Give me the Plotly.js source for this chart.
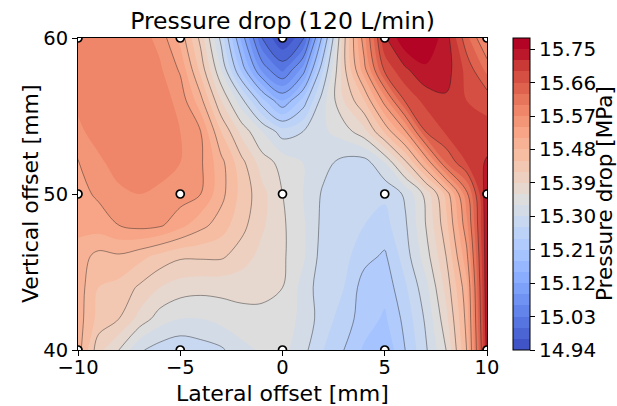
<!DOCTYPE html>
<html>
<head>
<meta charset="utf-8">
<script src="https://cdn.plot.ly/plotly-3.0.1.min.js"></script>
<style>html,body{margin:0;padding:0;background:#fff;}#chart{width:617px;height:406px;}</style>
</head>
<body>
<div id="chart"></div>
<script>
// Lateral offset grid [mm]
const lateral = [-10,-9,-8,-7,-6,-5,-4,-3,-2,-1,0,1,2,3,4,5,6,7,8,9,10];
// Vertical offset grid [mm]
const vertical = [40,42,44,46,48,50,52,54,56,58,60];
// Pressure drop [MPa], one row per vertical offset
const dp40 = [15.495,15.40,15.36,15.305,15.285,15.275,15.285,15.295,15.32,15.335,15.34,15.31,15.27,15.24,15.205,15.185,15.24,15.295,15.36,15.48,15.73];
const dp42 = [15.495,15.44,15.42,15.38,15.345,15.33,15.33,15.34,15.35,15.355,15.35,15.32,15.285,15.255,15.225,15.205,15.25,15.305,15.38,15.49,15.74];
const dp44 = [15.495,15.45,15.44,15.415,15.39,15.375,15.37,15.37,15.37,15.365,15.36,15.32,15.28,15.27,15.225,15.22,15.265,15.32,15.40,15.50,15.745];
const dp46 = [15.495,15.47,15.475,15.46,15.44,15.425,15.425,15.425,15.405,15.38,15.365,15.335,15.285,15.28,15.25,15.235,15.285,15.345,15.42,15.53,15.745];
const dp48 = [15.52,15.525,15.54,15.55,15.545,15.52,15.49,15.465,15.43,15.395,15.365,15.335,15.29,15.285,15.27,15.26,15.295,15.36,15.44,15.56,15.745];
const dp50 = [15.53,15.545,15.565,15.57,15.565,15.555,15.54,15.49,15.44,15.40,15.36,15.33,15.295,15.29,15.28,15.275,15.305,15.37,15.46,15.59,15.745];
const dp52 = [15.537,15.565,15.58,15.585,15.58,15.57,15.545,15.49,15.43,15.375,15.35,15.33,15.31,15.29,15.285,15.33,15.41,15.51,15.63,15.69,15.725];
const dp54 = [15.565,15.58,15.59,15.59,15.585,15.57,15.54,15.45,15.38,15.33,15.285,15.30,15.325,15.345,15.38,15.455,15.535,15.66,15.695,15.69,15.70];
const dp56 = [15.575,15.585,15.595,15.595,15.585,15.56,15.49,15.39,15.31,15.22,15.15,15.22,15.32,15.39,15.45,15.555,15.665,15.70,15.715,15.69,15.68];
const dp58 = [15.58,15.59,15.595,15.595,15.575,15.535,15.44,15.33,15.20,15.08,15.02,15.10,15.27,15.41,15.53,15.67,15.715,15.745,15.735,15.68,15.62];
const dp60 = [15.575,15.585,15.59,15.585,15.56,15.50,15.41,15.29,15.14,15.00,14.94,14.99,15.20,15.41,15.56,15.715,15.775,15.775,15.735,15.64,15.56];
// Measured sample locations
const sampleX = [-10,-5,0,5,10,-10,-5,0,5,10,-10,-5,0,5,10];
const sampleY = [40,40,40,40,40,50,50,50,50,50,60,60,60,60,60];
// Colorbar ticks
const cbTicks = [14.94,15.03,15.12,15.21,15.30,15.39,15.48,15.57,15.66,15.75];
const xTicks = [-10,-5,0,5,10];
const yTicks = [40,50,60];

const zGrid = [dp40,dp42,dp44,dp46,dp48,dp50,dp52,dp54,dp56,dp58,dp60];

const coolwarm = [
 [0,'rgb(59,76,192)'],[0.03125,'rgb(68,90,204)'],[0.0625,'rgb(77,104,215)'],[0.09375,'rgb(87,117,225)'],
 [0.125,'rgb(98,130,234)'],[0.15625,'rgb(108,142,241)'],[0.1875,'rgb(119,154,247)'],[0.21875,'rgb(130,165,251)'],
 [0.25,'rgb(141,176,254)'],[0.28125,'rgb(152,185,255)'],[0.3125,'rgb(163,194,255)'],[0.34375,'rgb(174,201,253)'],
 [0.375,'rgb(184,208,249)'],[0.40625,'rgb(194,213,244)'],[0.4375,'rgb(204,217,238)'],[0.46875,'rgb(213,219,230)'],
 [0.5,'rgb(221,221,221)'],[0.53125,'rgb(229,216,209)'],[0.5625,'rgb(236,211,197)'],[0.59375,'rgb(241,204,185)'],
 [0.625,'rgb(245,196,173)'],[0.65625,'rgb(247,187,160)'],[0.6875,'rgb(247,177,148)'],[0.71875,'rgb(247,166,135)'],
 [0.75,'rgb(244,154,123)'],[0.78125,'rgb(241,141,111)'],[0.8125,'rgb(236,127,99)'],[0.84375,'rgb(229,112,88)'],
 [0.875,'rgb(222,96,77)'],[0.90625,'rgb(213,80,66)'],[0.9375,'rgb(203,62,56)'],[0.96875,'rgb(192,40,47)'],
 [1,'rgb(180,4,38)']
];

const font = 'DejaVu Sans, sans-serif';

const fill = {
  type: 'contour', x: lateral, y: vertical, z: zGrid,
  colorscale: coolwarm, zauto: false, zmin: 14.94, zmax: 15.78,
  autocontour: false,
  contours: {start: 14.94, end: 15.78, size: 0.03, coloring: 'fill', showlines: false},
  line: {width: 0, smoothing: 1},
  colorbar: {
    x: 1.0636, xanchor: 'left', xpad: 0, y: 0.5, yanchor: 'middle', ypad: 0, len: 1, lenmode: 'fraction',
    thickness: 17, outlinewidth: 1, outlinecolor: '#000',
    ticks: 'outside', ticklen: 5, tickcolor: '#000', tickwidth: 1,
    tickvals: cbTicks, ticktext: cbTicks.map(v => v.toFixed(2)),
    tickfont: {family: font, size: 20, color: '#000'}
  },
  hoverinfo: 'skip'
};

const lines = {
  type: 'contour', x: lateral, y: vertical, z: zGrid,
  autocontour: false, showscale: false,
  contours: {start: 15.00, end: 15.72, size: 0.06, coloring: 'none'},
  line: {color: 'rgba(30,30,30,0.55)', width: 0.8, smoothing: 1},
  hoverinfo: 'skip'
};

const pts = {
  type: 'scatter', mode: 'markers', x: sampleX, y: sampleY,
  marker: {size: 8, color: '#fff', line: {color: '#000', width: 1.7}},
  cliponaxis: true, showlegend: false, hoverinfo: 'skip'
};

const layout = {
  width: 617, height: 406,
  margin: {l: 78, r: 130, t: 38, b: 56, pad: 0, autoexpand: false},
  paper_bgcolor: '#fff', plot_bgcolor: '#fff',
  font: {family: font, color: '#000'},
  title: {text: 'Pressure drop (120 L/min)', xref: 'paper', x: 0.5, xanchor: 'center', y: 0.95, yanchor: 'middle',
          font: {family: font, size: 23.5, color: '#000'}},
  xaxis: {
    range: [-10, 10], tickvals: xTicks, ticktext: xTicks.map(v => v < 0 ? '\u2212' + Math.abs(v) : String(v)),
    showline: true, mirror: true, linecolor: '#000', linewidth: 1,
    ticks: 'outside', ticklen: 5, tickcolor: '#000', showgrid: false, zeroline: false,
    ticklabelstandoff: -5,
    tickfont: {family: font, size: 19.5, color: '#000'}
  },
  yaxis: {
    range: [40, 60], tickvals: yTicks, ticktext: yTicks.map(String),
    showline: true, mirror: true, linecolor: '#000', linewidth: 1,
    ticks: 'outside', ticklen: 5, tickcolor: '#000', showgrid: false, zeroline: false,
    tickfont: {family: font, size: 19.5, color: '#000'}
  },
  annotations: [
    {text: 'Lateral offset [mm]', xref: 'paper', yref: 'paper', x: 0.5, y: (350 - 393) / 312,
     xanchor: 'center', yanchor: 'middle', showarrow: false, font: {family: font, size: 22, color: '#000'}},
    {text: 'Vertical offset [mm]', xref: 'paper', yref: 'paper', x: (30 - 78) / 409, y: 0.5,
     xanchor: 'center', yanchor: 'middle', textangle: -90, showarrow: false, font: {family: font, size: 22, color: '#000'}},
    {text: 'Pressure drop [MPa]', xref: 'paper', yref: 'paper', x: (604 - 78) / 409, y: 0.5,
     xanchor: 'center', yanchor: 'middle', textangle: -90, showarrow: false, font: {family: font, size: 21.5, color: '#000'}}
  ],
  showlegend: false
};

Plotly.newPlot('chart', [fill, lines, pts], layout, {displayModeBar: false, staticPlot: true});
</script>
</body>
</html>
